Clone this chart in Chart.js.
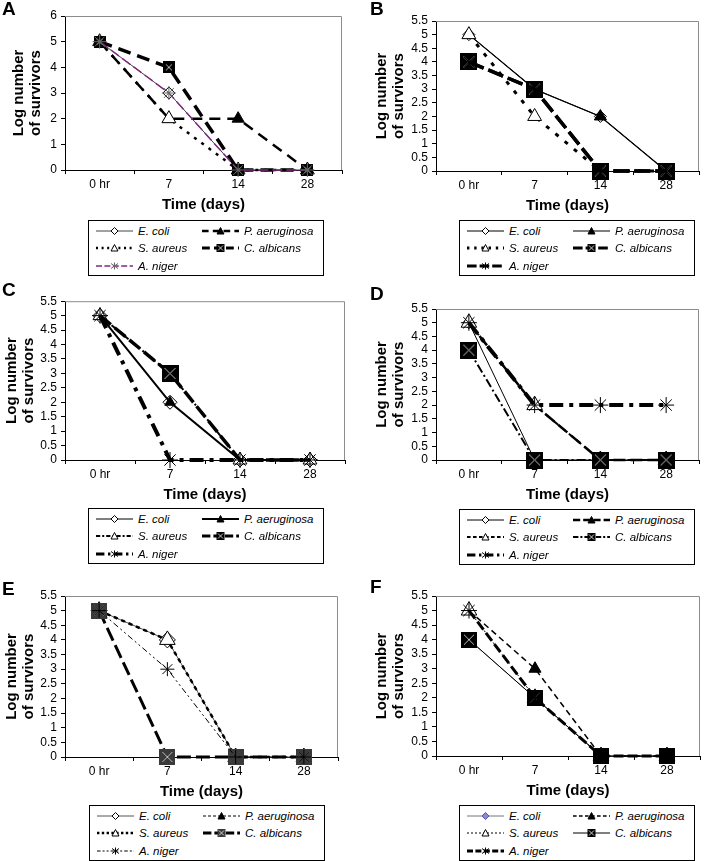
<!DOCTYPE html>
<html>
<head>
<meta charset="utf-8">
<script src="https://cdn.jsdelivr.net/npm/chart.js@4.4.0/dist/chart.umd.min.js"></script>
<style>
body { margin: 0; width: 717px; height: 861px; background: #fff; position: relative; overflow: hidden; font-family: "Liberation Sans", Arial, sans-serif; }
canvas { position: absolute; }
.letter { position: absolute; font-weight: bold; font-size: 19px; line-height: 1; }
.legend { position: absolute; width: 236px; height: 56px; box-sizing: border-box; border: 1px solid #000; background: #fff; font-style: italic; font-size: 11.5px; z-index: 2; }
.item { position: absolute; height: 12px; display: flex; align-items: center; white-space: nowrap; }
.item svg { display: block; margin-right: 5px; }
</style>
</head>
<body>
<script>
var FONT = '"Liberation Sans", Arial, sans-serif';

// categories and series names
var days = ['0 hr', '7', '14', '28'];
var species = ['E. coli', 'P. aeruginosa', 'S. aureus', 'C. albicans', 'A. niger'];

// log survivors, one row per species in the order above
var panelA = [[5, 3, 0, 0], [5, 2, 2, 0], [5, 2, 0, 0], [5, 4, 0, 0], [5, 3, 0, 0]];
var panelB = [[5, 3, 2, 0], [5, 3, 2, 0], [5, 2, 0, 0], [4, 3, 0, 0], [4, 3, 0, 0]];
var panelC = [[5, 2, 0, 0], [5, 2, 0, 0], [5, 3, 0, 0], [5, 3, 0, 0], [5, 0, 0, 0]];
var panelD = [[5, 0, 0, 0], [5, 2, 0, 0], [5, 2, 0, 0], [4, 0, 0, 0], [5, 2, 2, 2]];
var panelE = [[5, 4, 0, 0], [5, 4, 0, 0], [5, 4, 0, 0], [5, 0, 0, 0], [5, 3, 0, 0]];
var panelF = [[4, 2, 0, 0], [5, 3, 0, 0], [5, 2, 0, 0], [4, 2, 0, 0], [5, 2, 0, 0]];

// y axis tops
var yMaxA = 6, yStepA = 1;
var yMaxOther = 5.5, yStepOther = 0.5;

// line / marker styles per panel (same species order)
var stylesA = [
    { c: '#444', w: 1, d: [], p: 'rectRot', r: 6, f: '#fff' },
    { c: '#000', w: 2.5, d: [11, 7], p: 'triangle', r: 7, f: '#000' },
    { c: '#000', w: 2.5, d: [3, 6], p: 'triangle', r: 8, f: '#fff' },
    { c: '#000', w: 3.5, d: [13, 7], p: 'sqx', r: 12, f: '#000' },
    { c: '#7f2a80', w: 1.5, d: [10, 4], p: 'star', r: 7, f: '#fff', pc: '#666' }
];
var stylesB = [
    { c: '#000', w: 1, d: [], p: 'rectRot', r: 6, f: '#fff' },
    { c: '#000', w: 1.2, d: [], p: 'triangle', r: 7, f: '#000' },
    { c: '#000', w: 3, d: [4, 8], p: 'triangle', r: 8, f: '#fff' },
    { c: '#000', w: 3.5, d: [16, 5], p: 'sqx', r: 17, f: '#000' },
    { c: '#000', w: 3.5, d: [16, 5], p: 'star', r: 7, f: '#000' }
];
var stylesC = [
    { c: '#000', w: 1, d: [], p: 'rectRot', r: 7, f: '#fff' },
    { c: '#000', w: 2, d: [], p: 'triangle', r: 6, f: '#000' },
    { c: '#000', w: 2, d: [7, 3, 2, 3], p: 'triangle', r: 8, f: '#fff' },
    // only the day-7 marker is shown for this series in panel C
    { c: '#000', w: 3.5, d: [14, 5], p: 'sqx', r: 17, rs: [0, 17, 0, 0], f: '#000' },
    { c: '#000', w: 4, d: [14, 6, 4, 6], p: 'star', r: 8, f: '#fff' }
];
var stylesD = [
    { c: '#000', w: 1, d: [], p: 'rectRot', r: 6, f: '#fff' },
    { c: '#000', w: 2.5, d: [12, 5], p: 'triangle', r: 6, f: '#000' },
    { c: '#000', w: 2, d: [6, 4], p: 'triangle', r: 9, f: '#fff' },
    { c: '#000', w: 2, d: [9, 3, 2, 3], p: 'sqx', r: 17, f: '#000' },
    { c: '#000', w: 4, d: [14, 6, 4, 6], p: 'star', r: 8, f: '#fff' }
];
var stylesE = [
    { c: '#555', w: 1, d: [], p: 'rectRot', r: 8, f: '#fff' },
    { c: '#000', w: 1, d: [5, 3], p: 'triangle', r: 6, f: '#000' },
    { c: '#000', w: 2.5, d: [4, 4], p: 'triangle', r: 9, f: '#fff' },
    { c: '#000', w: 3, d: [14, 5], p: 'sqx', r: 16, f: '#3a3a3a' },
    { c: '#000', w: 1, d: [6, 3, 2, 3, 2, 3], p: 'star', r: 7, f: '#fff' }
];
var stylesF = [
    { c: '#777', w: 1, d: [], p: 'rectRot', r: 4, f: '#8a8ad0', pc: '#5555aa' },
    { c: '#000', w: 1.5, d: [6, 4], p: 'triangle', r: 7, f: '#000' },
    { c: '#000', w: 1, d: [2, 3], p: 'triangle', r: 9, f: '#fff' },
    { c: '#000', w: 1, d: [], p: 'sqx', r: 16, f: '#000' },
    { c: '#000', w: 3, d: [10, 4], p: 'star', r: 8, f: '#fff' }
];

// square with an x through it, used as a point image
function squareX(size, fill) {
    var c = document.createElement('canvas');
    c.width = size;
    c.height = size;
    var g = c.getContext('2d');
    g.fillStyle = fill;
    g.fillRect(0, 0, size, size);
    g.strokeStyle = '#bbb';
    g.lineWidth = 1;
    g.beginPath();
    g.moveTo(3, 3); g.lineTo(size - 3, size - 3);
    g.moveTo(size - 3, 3); g.lineTo(3, size - 3);
    g.stroke();
    return c;
}

// grey box round the plot area (top and right sides)
var framePlugin = {
    id: 'frame',
    beforeDatasetsDraw: function (chart) {
        var a = chart.chartArea, ctx = chart.ctx;
        ctx.save();
        ctx.strokeStyle = '#8c8c8c';
        ctx.lineWidth = 1;
        ctx.beginPath();
        ctx.moveTo(a.left, a.top + 0.5);
        ctx.lineTo(a.right - 0.5, a.top + 0.5);
        ctx.lineTo(a.right - 0.5, a.bottom);
        ctx.stroke();
        ctx.restore();
    }
};

function markerSvg(s, cx, cy) {
    var k = 3.5, stroke = s.pc || '#000';
    if (s.p === 'rectRot') {
        return '<polygon points="' + cx + ',' + (cy - k) + ' ' + (cx + k) + ',' + cy + ' ' + cx + ',' + (cy + k) + ' ' + (cx - k) + ',' + cy + '" fill="' + s.f + '" stroke="' + stroke + '" stroke-width="1"/>';
    }
    if (s.p === 'triangle') {
        return '<polygon points="' + cx + ',' + (cy - k) + ' ' + (cx + k) + ',' + (cy + k - 0.5) + ' ' + (cx - k) + ',' + (cy + k - 0.5) + '" fill="' + s.f + '" stroke="#000" stroke-width="1"/>';
    }
    if (s.p === 'sqx') {
        return '<rect x="' + (cx - 4) + '" y="' + (cy - 4) + '" width="8" height="8" fill="' + s.f + '"/>' +
            '<path d="M' + (cx - 2.5) + ' ' + (cy - 2.5) + 'L' + (cx + 2.5) + ' ' + (cy + 2.5) + 'M' + (cx + 2.5) + ' ' + (cy - 2.5) + 'L' + (cx - 2.5) + ' ' + (cy + 2.5) + '" stroke="#ccc" stroke-width="1"/>';
    }
    return '<path d="M' + cx + ' ' + (cy - k) + 'V' + (cy + k) + 'M' + (cx - k) + ' ' + (cy - k + 1) + 'L' + (cx + k) + ' ' + (cy + k - 1) + 'M' + (cx + k) + ' ' + (cy - k + 1) + 'L' + (cx - k) + ' ' + (cy + k - 1) + '" stroke="' + stroke + '" stroke-width="1" fill="none"/>';
}

function makeLegend(styles, left, top) {
    var box = document.createElement('div');
    box.className = 'legend';
    box.style.left = left + 'px';
    box.style.top = top + 'px';
    var rows = [11, 28, 46];
    var cols = [7, 113];
    for (var i = 0; i < species.length; i++) {
        var s = styles[i];
        var item = document.createElement('div');
        item.className = 'item';
        item.style.left = cols[i % 2] + 'px';
        item.style.top = (rows[Math.floor(i / 2)] - 7) + 'px';
        var lw = Math.min(s.w, 3);
        var dash = s.d.length ? ' stroke-dasharray="' + s.d.map(function (v) { return Math.max(2, v * 0.6); }).join(',') + '"' : '';
        item.innerHTML = '<svg width="37" height="12"><line x1="0" y1="6" x2="37" y2="6" stroke="' + s.c + '" stroke-width="' + lw + '"' + dash + '/>' +
            markerSvg(s, 18.5, 6) + '</svg><span>' + species[i] + '</span>';
        box.appendChild(item);
    }
    document.body.appendChild(box);
}

function makePanel(p) {
    var padL = p.padL, padT = 8, padR = p.padR, padB = 45;
    var canvas = document.createElement('canvas');
    canvas.width = padL + (p.r - p.l) + padR;
    canvas.height = padT + (p.b - p.t) + padB;
    canvas.style.left = (p.l - padL) + 'px';
    canvas.style.top = (p.t - padT) + 'px';
    document.body.appendChild(canvas);

    var datasets = [];
    for (var i = 0; i < species.length; i++) {
        var s = p.styles[i];
        datasets.push({
            label: species[i],
            data: p.values[i],
            borderColor: s.c,
            borderWidth: s.w,
            borderDash: s.d,
            borderCapStyle: 'butt',
            fill: false,
            tension: 0,
            pointStyle: s.p === 'sqx' ? squareX(s.r, s.f) : s.p,
            pointRadius: s.rs || s.r,
            pointBackgroundColor: s.f,
            pointBorderColor: s.pc || '#000',
            pointBorderWidth: 1,
            clip: false,
            order: species.length - i
        });
    }

    new Chart(canvas, {
        type: 'line',
        data: { labels: days, datasets: datasets },
        options: {
            responsive: false,
            animation: false,
            devicePixelRatio: 1,
            layout: { padding: { left: 0, top: padT, right: padR, bottom: 0 } },
            plugins: { legend: { display: false }, tooltip: { enabled: false } },
            scales: {
                x: {
                    type: 'category',
                    offset: true,
                    grid: { offset: true, drawOnChartArea: false, drawTicks: true, tickLength: 4, color: '#000' },
                    border: { color: '#000', width: 1 },
                    ticks: { color: '#000', font: { family: FONT, size: 12 }, padding: 3, maxRotation: 0, autoSkip: false },
                    title: { display: true, text: 'Time (days)', color: '#000', font: { family: FONT, size: 15, weight: 'bold' }, padding: { top: 0, bottom: 1 } },
                    afterFit: function (scale) { scale.height = padB; }
                },
                y: {
                    min: 0,
                    max: p.max,
                    grid: { drawOnChartArea: false, drawTicks: true, tickLength: 4, color: '#000' },
                    border: { color: '#000', width: 1 },
                    ticks: { stepSize: p.step, maxTicksLimit: 20, autoSkip: false, color: '#000', font: { family: FONT, size: 12 }, padding: 4, callback: function (v) { return String(v); } },
                    title: { display: true, text: ['Log number', 'of survivors'], color: '#000', font: { family: FONT, size: 15, weight: 'bold', lineHeight: 1.1 }, padding: { top: p.titlePad, bottom: 0 } },
                    afterFit: function (scale) { scale.width = padL; }
                }
            }
        },
        plugins: [framePlugin]
    });

    var letter = document.createElement('div');
    letter.className = 'letter';
    letter.textContent = p.letter;
    letter.style.left = p.lx + 'px';
    letter.style.top = p.ly + 'px';
    document.body.appendChild(letter);

    makeLegend(p.styles, p.legX, p.legY);
}

makePanel({ letter: 'A', lx: 2, ly: -1, l: 65, t: 11, r: 345, b: 170, padL: 65, padR: 10, titlePad: 11, max: yMaxA, step: yStepA, values: panelA, styles: stylesA, legX: 88, legY: 220 });
makePanel({ letter: 'B', lx: 370, ly: -1, l: 436, t: 11, r: 716, b: 171, padL: 79, padR: 1, titlePad: 17, max: yMaxOther, step: yStepOther, values: panelB, styles: stylesB, legX: 459, legY: 220 });
makePanel({ letter: 'C', lx: 2, ly: 280, l: 65, t: 298, r: 345, b: 460, padL: 65, padR: 10, titlePad: 4, max: yMaxOther, step: yStepOther, values: panelC, styles: stylesC, legX: 88, legY: 508 });
makePanel({ letter: 'D', lx: 370, ly: 284, l: 436, t: 299, r: 716, b: 460, padL: 79, padR: 1, titlePad: 17, max: yMaxOther, step: yStepOther, values: panelD, styles: stylesD, legX: 459, legY: 509 });
makePanel({ letter: 'E', lx: 2, ly: 579, l: 65, t: 587, r: 345, b: 757, padL: 65, padR: 10, titlePad: 4, max: yMaxOther, step: yStepOther, values: panelE, styles: stylesE, legX: 89, legY: 805 });
makePanel({ letter: 'F', lx: 370, ly: 577, l: 436, t: 587, r: 716, b: 756, padL: 79, padR: 1, titlePad: 17, max: yMaxOther, step: yStepOther, values: panelF, styles: stylesF, legX: 459, legY: 805 });
</script>
</body>
</html>
